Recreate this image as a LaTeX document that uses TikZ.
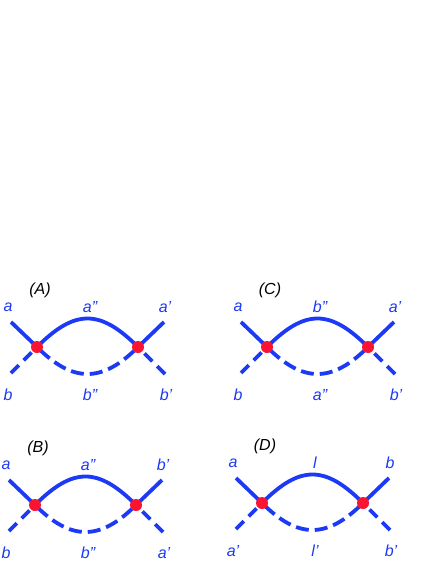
\documentclass[tikz,border=0pt]{standalone}
\usepackage{fontspec}
\setmainfont{Liberation Sans}
\definecolor{strand}{RGB}{28,58,245}
\definecolor{vertex}{RGB}{250,20,50}

\begin{document}
\begin{tikzpicture}[x=1pt,y=-1pt,
  upper/.style={line width=3.8pt, strand},
  lower/.style={line width=3.8pt, strand, dash pattern=on 11pt off 7pt},
  lowerarc/.style={line width=3.8pt, strand, dash pattern=on 13pt off 6pt, dash phase=-4pt},
  vtx/.style={circle, fill=vertex, inner sep=0pt, minimum size=12pt},
  lbl/.style={text=strand, font=\itshape\fontsize{16}{16}\selectfont},
  ttl/.style={font=\itshape\fontsize{16}{16}\selectfont}]
\useasboundingbox (0,0) rectangle (436,564);
\foreach \n/\px/\py/\tl/\tm/\tr/\bl/\bm/\br in {
  A/37/347/a/a''/a'/b/b''/b',
  C/267/347/a/b''/a'/b/a''/b',
  B/35/505/a/a''/b'/b/b''/a',
  D/262/503/a/l/b/a'/l'/b'}
{
  \coordinate (L\n) at (\px,\py);
  \coordinate (R\n) at (\px+101,\py);
  \coordinate (ul\n) at ([shift={(-26,-25)}]L\n);
  \coordinate (ll\n) at ([shift={(-26,26)}]L\n);
  \coordinate (ur\n) at ([shift={(26,-25)}]R\n);
  \coordinate (lr\n) at ([shift={(27,27)}]R\n);
  % strands
  \draw[upper] (ul\n) -- (L\n) .. controls +(38,-38) and +(-38,-38) .. (R\n) -- (ur\n);
  \draw[lower] (ll\n) -- (L\n);
  \draw[lower] (lr\n) -- (R\n);
  \draw[lowerarc] (L\n) .. controls +(36,36) and +(-36,36) .. (R\n);
  \node[vtx] (dotL\n) at (L\n) {};
  \node[vtx] (dotR\n) at (R\n) {};
  % labels
  \node[ttl] (title\n) at ([shift={(3,-57)}]L\n) {(\n)};
  \node[lbl] (tl\n) at ([shift={(-29,-40)}]L\n) {\tl};
  \node[lbl] (tm\n) at ([shift={(53,-40)}]L\n) {\tm};
  \node[lbl] (tr\n) at ([shift={(128,-40)}]L\n) {\tr};
  \node[lbl] (bl\n) at ([shift={(-29,48)}]L\n) {\bl};
  \node[lbl] (bm\n) at ([shift={(53,48)}]L\n) {\bm};
  \node[lbl] (br\n) at ([shift={(129,48)}]L\n) {\br};
}
\end{tikzpicture}
\end{document}
